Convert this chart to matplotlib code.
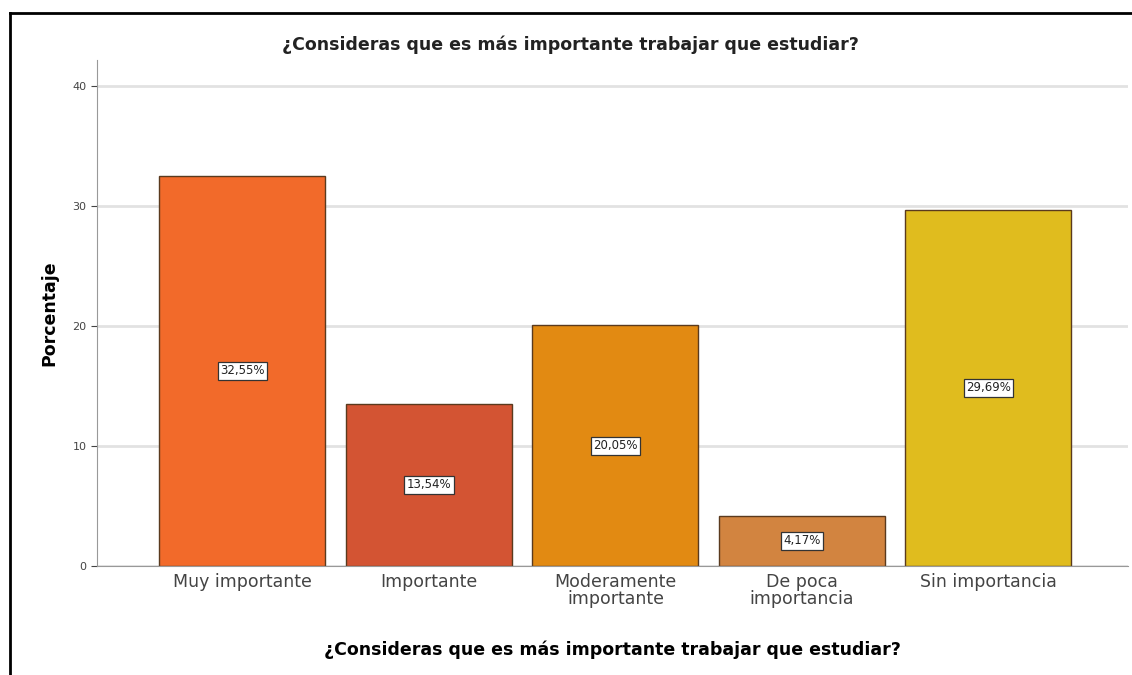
import matplotlib.pyplot as plt
from matplotlib.lines import Line2D

categories = ["Muy importante", "Importante", "Moderamente\nimportante",
              "De poca\nimportancia", "Sin importancia"]
values = [32.55, 13.54, 20.05, 4.17, 29.69]
labels = ["32,55%", "13,54%", "20,05%", "4,17%", "29,69%"]
colors = ["#F26A2A", "#D35433", "#E28A12", "#D28440", "#E0BC1E"]
yticks = [0, 10, 20, 30, 40]
titulo = "¿Consideras que es más importante trabajar que estudiar?"

fig = plt.figure(figsize=(11.32, 6.75), dpi=100)
ax = fig.add_axes([0.0857, 0.1615, 0.911, 0.75])

x = range(len(categories))
ax.set_axisbelow(True)
ax.yaxis.grid(True, color="#e2e2e2", linewidth=2)
ax.bar(x, values, width=0.89, color=colors, edgecolor="#5a3a1e", linewidth=1)

for i, v in enumerate(values):
    ax.text(i, v / 2, labels[i], ha="center", va="center", fontsize=8.5,
            color="#222222",
            bbox=dict(boxstyle="square,pad=0.2", facecolor="white",
                      edgecolor="#333333", linewidth=0.9))

ax.set_xlim(-0.78, 4.75)
ax.set_ylim(0, 42.2)
ax.set_yticks(yticks)
ax.set_xticks(list(x))
ax.set_xticklabels(categories, fontsize=12.5, color="#444444", linespacing=0.9)
ax.tick_params(axis="y", labelsize=8, colors="#444444", length=4, width=0.8)
ax.tick_params(axis="x", length=0, pad=5)

for s in ["top", "right"]:
    ax.spines[s].set_visible(False)
ax.spines["left"].set_color("#999999")
ax.spines["bottom"].set_color("#999999")

ax.set_ylabel("Porcentaje", fontsize=12.5, fontweight="bold", labelpad=10)
ax.set_xlabel(titulo, fontsize=12.5, fontweight="bold", labelpad=24)
fig.text(0.504, 0.933, titulo, ha="center", va="center",
         fontsize=12.5, fontweight="bold", color="#222222")

# marco exterior (solo arriba e izquierda)
fig.add_artist(Line2D([0.0088, 1.0], [0.9807, 0.9807], color="black", linewidth=2))
fig.add_artist(Line2D([0.0088, 0.0088], [0.0, 0.9807], color="black", linewidth=2))

fig.savefig("out.png", dpi=100)
